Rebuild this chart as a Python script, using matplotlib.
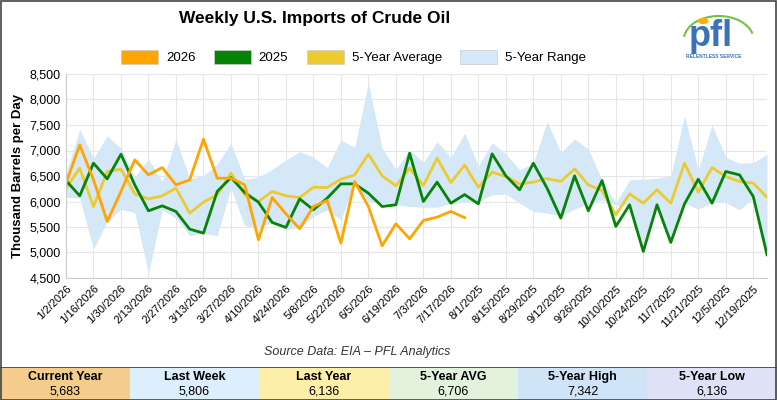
import matplotlib
matplotlib.use("Agg")
import matplotlib.pyplot as plt
from matplotlib.patches import Rectangle, Arc, Circle, Patch
import numpy as np

tick_labels = ["1/2/2026","1/16/2026","1/30/2026","2/13/2026","2/27/2026","3/13/2026","3/27/2026",
               "4/10/2026","4/24/2026","5/8/2026","5/22/2026","6/5/2026","6/19/2026","7/3/2026",
               "7/17/2026","8/1/2025","8/15/2025","8/29/2025","9/12/2025","9/26/2025","10/10/2025",
               "10/24/2025","11/7/2025","11/21/2025","12/5/2025","12/19/2025"]

y2026 = [6359,7110,6424,5609,6196,6816,6522,6666,6327,6424,7221,6457,6457,6327,5250,6078,5759,5465,
         5902,6020,5184,6392,5902,5132,5563,5269,5628,5693,5806,5683]
y2025 = [6411,6111,6751,6444,6927,6327,5817,5915,5804,5458,5380,6196,6470,6176,5987,5589,5491,6052,
         5837,6065,6346,6346,6163,5902,5935,6947,6000,6379,5967,6136,5954,6934,6503,6229,6751,6261,
         5674,6503,5817,6411,5511,5935,5021,5935,5197,5954,6437,5967,6588,6522,6098,4956]
avg5 = [6261,6653,5902,6588,6633,6150,6052,6111,6261,5772,5987,6131,6555,6131,6000,6196,6111,6078,
        6281,6274,6437,6522,6927,6503,6307,6653,6313,6849,6372,6712,6281,6575,6490,6346,6379,6450,
        6392,6640,6327,6216,5739,6150,5967,6229,5967,6751,6183,6666,6490,6392,6359,6085]
high5 = [6555,7417,6849,7286,7044,6490,6829,6392,7221,6457,6503,6738,7142,6437,6477,6633,6816,6979,
         6868,6666,7208,7064,8317,7044,6633,7012,6764,7175,6868,7338,6699,7155,6933,6620,6751,7567,
         6960,7227,7025,6424,5967,6424,6437,6457,6503,7678,6620,7501,6868,6751,6764,6927]
low5 = [6085,6065,5067,5609,5850,5785,4597,5837,5674,5328,5380,5328,6261,5524,5511,5576,5458,5478,
        5707,5837,5641,6359,6000,5967,5935,5902,5889,5889,5967,5980,6000,6131,6150,5967,5804,5772,
        5720,5850,5967,6033,5935,5902,5021,5915,5197,5967,5850,5980,5980,5837,6065,4956]

stat_names = ["Current Year","Last Week","Last Year","5-Year AVG","5-Year High","5-Year Low"]
stat_vals = ["5,683","5,806","6,136","6,706","7,342","6,136"]
stat_colors = ["#f4cd8c","#ddeefc","#fdeeaa","#e3f2dc","#d0e4f8","#dfe1f6"]

c26, c25, cavg, crng = "#ffa500", "#078307", "#ebcb30", "#d4e8f7"

plt.rcParams['font.family'] = ['Liberation Sans', 'DejaVu Sans']
fig = plt.figure(figsize=(7.77, 4.0), dpi=100)
ax = fig.add_axes([66/777, 1-278/400, 701/777, 204/400])

x52 = np.arange(len(y2025))
ax.fill_between(x52, low5, high5, color=crng, lw=0)
ax.plot(x52, avg5, color=cavg, lw=2)
ax.plot(x52, y2025, color=c25, lw=2)
ax.plot(np.arange(len(y2026)), y2026, color=c26, lw=2)

ax.set_xlim(0, 51)
ax.set_ylim(4500, 8500)
ax.set_yticks(np.arange(4500, 8501, 500))
ax.set_yticklabels([f"{v:,}" for v in range(4500, 8501, 500)], fontsize=9)
ax.set_xticks(np.arange(0, 52, 2))
ax.set_xticklabels(tick_labels, rotation=45, ha="right", rotation_mode="anchor", fontsize=8)
ax.grid(True, color="#e6e6e6", lw=0.8)
ax.set_axisbelow(True)
for s in ["top", "right"]:
    ax.spines[s].set_visible(False)
for s in ["left", "bottom"]:
    ax.spines[s].set_color("#cccccc")
ax.tick_params(length=0, pad=4)
ax.set_ylabel("Thousand Barrels per Day", fontsize=9.5, fontweight="bold")

handles = [Patch(facecolor=c, edgecolor="#cccccc", lw=0.5) for c in (c26, c25, cavg, crng)]
labels = ["2026", "2025", "5-Year Average", "5-Year Range"]
fig.legend(handles, labels, loc="center", bbox_to_anchor=(0.455, 1-57/400), ncol=4, frameon=False,
           fontsize=9.5, handlelength=2.8, handleheight=1.3, columnspacing=1.4, handletextpad=0.6)

fig.text(0.405, 1-19/400, "Weekly U.S. Imports of Crude Oil", ha="center", va="center",
         fontsize=12.5, fontweight="bold")
fig.text(0.46, 1-352/400, "Source Data: EIA \u2013 PFL Analytics", ha="center", va="center",
         fontsize=9, style="italic", color="#333333")

w = 1/6
for i in range(6):
    fig.patches.append(Rectangle((i*w, 0), w, 32/400, transform=fig.transFigure,
                                 facecolor=stat_colors[i], edgecolor="none", zorder=0))
    fig.text(i*w + w/2, 1-377/400, stat_names[i], ha="center", va="center", fontsize=9, fontweight="bold")
    fig.text(i*w + w/2, 1-391/400, stat_vals[i], ha="center", va="center", fontsize=9)
fig.patches.append(Rectangle((0, 32/400), 1, 0.002, transform=fig.transFigure,
                             facecolor="#555555", edgecolor="none"))

fig.text(0.915, 1-36/400, "pfl", ha="center", va="center", fontsize=26, fontweight="bold",
         color="#3a73b8")
fig.text(0.918, 1-56/400, "RELENTLESS SERVICE", ha="center", va="center", fontsize=3.5,
         color="#3a73b8", fontweight="bold")
fig.patches.append(Arc((0.925, 1-40/400), 0.09, 0.12, theta1=20, theta2=170,
                       transform=fig.transFigure, color="#6cc644", lw=1.5))
fig.patches.append(Circle((0.905, 1-21/400), 0.006, transform=fig.transFigure, color="#f5b400"))

fig.patches.append(Rectangle((0.001, 0.001), 0.998, 0.997, transform=fig.transFigure,
                             fill=False, edgecolor="#444444", lw=1.2))
fig.savefig("out.png", dpi=100)
